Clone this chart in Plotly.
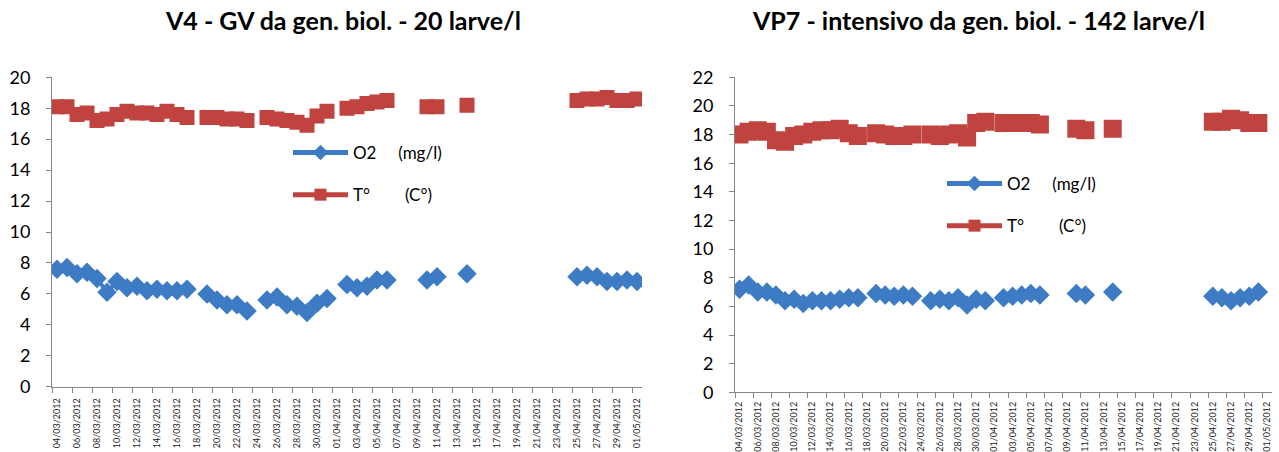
import datetime as dt
import plotly.graph_objects as go

# ---- data ----
start = dt.date(2012, 3, 4)
dates = [(start + dt.timedelta(days=i)).isoformat() for i in range(59)]  # 04/03/2012 .. 01/05/2012

N = None
o2_v4 = [7.6, 7.7, 7.3, 7.4, 7.0, 6.1, 6.8, 6.4, 6.5, 6.2, 6.3, 6.2, 6.2, 6.3, N,
         6.0, 5.6, 5.3, 5.3, 4.9, N, 5.6, 5.8, 5.3, 5.2, 4.8, 5.4, 5.7, N,
         6.6, 6.4, 6.5, 6.9, 6.9, N, N, N, 6.9, 7.1, N, N, 7.3,
         N, N, N, N, N, N, N, N, N, N,
         7.1, 7.2, 7.1, 6.8, 6.8, 6.9, 6.8]
t_v4 = [18.1, 18.1, 17.6, 17.7, 17.2, 17.3, 17.6, 17.8, 17.7, 17.7, 17.6, 17.8, 17.6, 17.4, N,
        17.4, 17.4, 17.3, 17.3, 17.2, N, 17.4, 17.3, 17.2, 17.1, 16.9, 17.5, 17.8, N,
        18.0, 18.1, 18.3, 18.4, 18.5, N, N, N, 18.1, 18.1, N, N, 18.2,
        N, N, N, N, N, N, N, N, N, N,
        18.5, 18.6, 18.6, 18.7, 18.5, 18.5, 18.6]
o2_vp7 = [7.2, 7.5, 7.0, 7.0, 6.8, 6.4, 6.5, 6.2, 6.4, 6.4, 6.4, 6.5, 6.6, 6.6, N,
          6.9, 6.8, 6.7, 6.8, 6.7, N, 6.4, 6.5, 6.4, 6.6, 6.1, 6.5, 6.4, N,
          6.6, 6.7, 6.8, 6.9, 6.8, N, N, N, 6.9, 6.8, N, N, 7.0,
          N, N, N, N, N, N, N, N, N, N,
          6.7, 6.6, 6.4, 6.6, 6.7, 7.0, N]
t_vp7 = [18.0, 18.2, 18.3, 18.2, 17.6, 17.5, 17.9, 18.0, 18.2, 18.3, 18.3, 18.4, 18.1, 17.9, N,
         18.1, 18.0, 17.9, 17.9, 18.0, N, 18.0, 17.9, 18.0, 18.1, 17.8, 18.8, 18.9, N,
         18.8, 18.8, 18.8, 18.8, 18.7, N, N, N, 18.4, 18.3, N, N, 18.4,
         N, N, N, N, N, N, N, N, N, N,
         18.9, 18.9, 19.1, 19.0, 18.8, 18.8, N]

titles = ["V4 - GV da gen. biol. - 20 larve/l",
          "VP7 - intensivo da gen. biol. - 142 larve/l"]
name_o2 = "O2" + "\u00a0" * 5 + "(mg/l)"
name_t = "T°" + "\u00a0" * 8 + "(C°)"

BLUE = "#3D7CC4"
RED = "#C0433F"
AX = "#868686"
FONT = "Lato"

fig = go.Figure()

def add(series_o2, series_t, xa, ya, leg, sq):
    fig.add_trace(go.Scatter(x=dates, y=series_o2, name=name_o2, mode="lines+markers",
                             connectgaps=False, xaxis=xa, yaxis=ya, legend=leg, legendgroup=leg + "a",
                             line=dict(color=BLUE, width=4),
                             marker=dict(symbol="diamond", size=15, color=BLUE)))
    fig.add_trace(go.Scatter(x=dates, y=series_t, name=name_t, mode="lines+markers",
                             connectgaps=False, xaxis=xa, yaxis=ya, legend=leg, legendgroup=leg + "b",
                             line=dict(color=RED, width=4),
                             marker=dict(symbol="square", size=sq, color=RED)))

add(o2_v4, t_v4, "x", "y", "legend", 15)
add(o2_vp7, t_vp7, "x2", "y2", "legend2", 18)

W, H = 1279, 452
xr = ["2012-03-03 12:00", "2012-05-01 12:00"]
xcommon = dict(type="date", range=xr, tick0=dates[0], dtick=2 * 86400000, tickformat="%d/%m/%Y",
               tickangle=-90, ticks="", showgrid=False, showline=True, linecolor=AX, linewidth=1,
               tickfont=dict(family=FONT, size=9, color="#222"),
               minor=dict(tick0="2012-03-03 12:00", dtick=2 * 86400000, ticks="outside",
                          ticklen=5, tickcolor=AX, showgrid=False),
               zeroline=False, fixedrange=True, automargin=False)
ycommon = dict(showgrid=False, showline=True, linecolor=AX, linewidth=1, ticks="outside",
               ticklen=5, tickcolor=AX, dtick=2, zeroline=False, automargin=False,
               ticklabelstandoff=12, tickfont=dict(family=FONT, size=18, color="#000"))

legcommon = dict(xanchor="left", yanchor="top", bgcolor="rgba(0,0,0,0)", itemsizing="constant",
                 font=dict(family=FONT, size=17, color="#000"), tracegroupgap=17,
                 traceorder="grouped", itemwidth=55)

fig.update_layout(
    width=W, height=H, margin=dict(l=0, r=0, t=0, b=0, autoexpand=False),
    paper_bgcolor="white", plot_bgcolor="white", showlegend=True,
    xaxis=dict(domain=[52 / W, 642 / W], anchor="y", ticklabelstandoff=7, **xcommon),
    yaxis=dict(domain=[(H - 386.7) / H, (H - 77.3) / H], range=[0, 20], anchor="x", **ycommon),
    xaxis2=dict(domain=[735 / W, 1272 / W], anchor="y2", ticklabelstandoff=5, **xcommon),
    yaxis2=dict(domain=[(H - 392.3) / H, (H - 77.3) / H], range=[0, 22], anchor="x2", **ycommon),
    legend=dict(x=288 / W, y=1 - 135 / H, **legcommon),
    legend2=dict(x=942 / W, y=1 - 166 / H, **legcommon),
    annotations=[
        dict(text="<b>" + titles[0] + "</b>", x=343 / W, y=1 - 20 / H, xref="paper", yref="paper",
             showarrow=False, xanchor="center", yanchor="middle", font=dict(family=FONT, size=25, color="#000")),
        dict(text="<b>" + titles[1] + "</b>", x=978 / W, y=1 - 20 / H, xref="paper", yref="paper",
             showarrow=False, xanchor="center", yanchor="middle", font=dict(family=FONT, size=25, color="#000")),
    ],
)

fig.write_html("out.html")
